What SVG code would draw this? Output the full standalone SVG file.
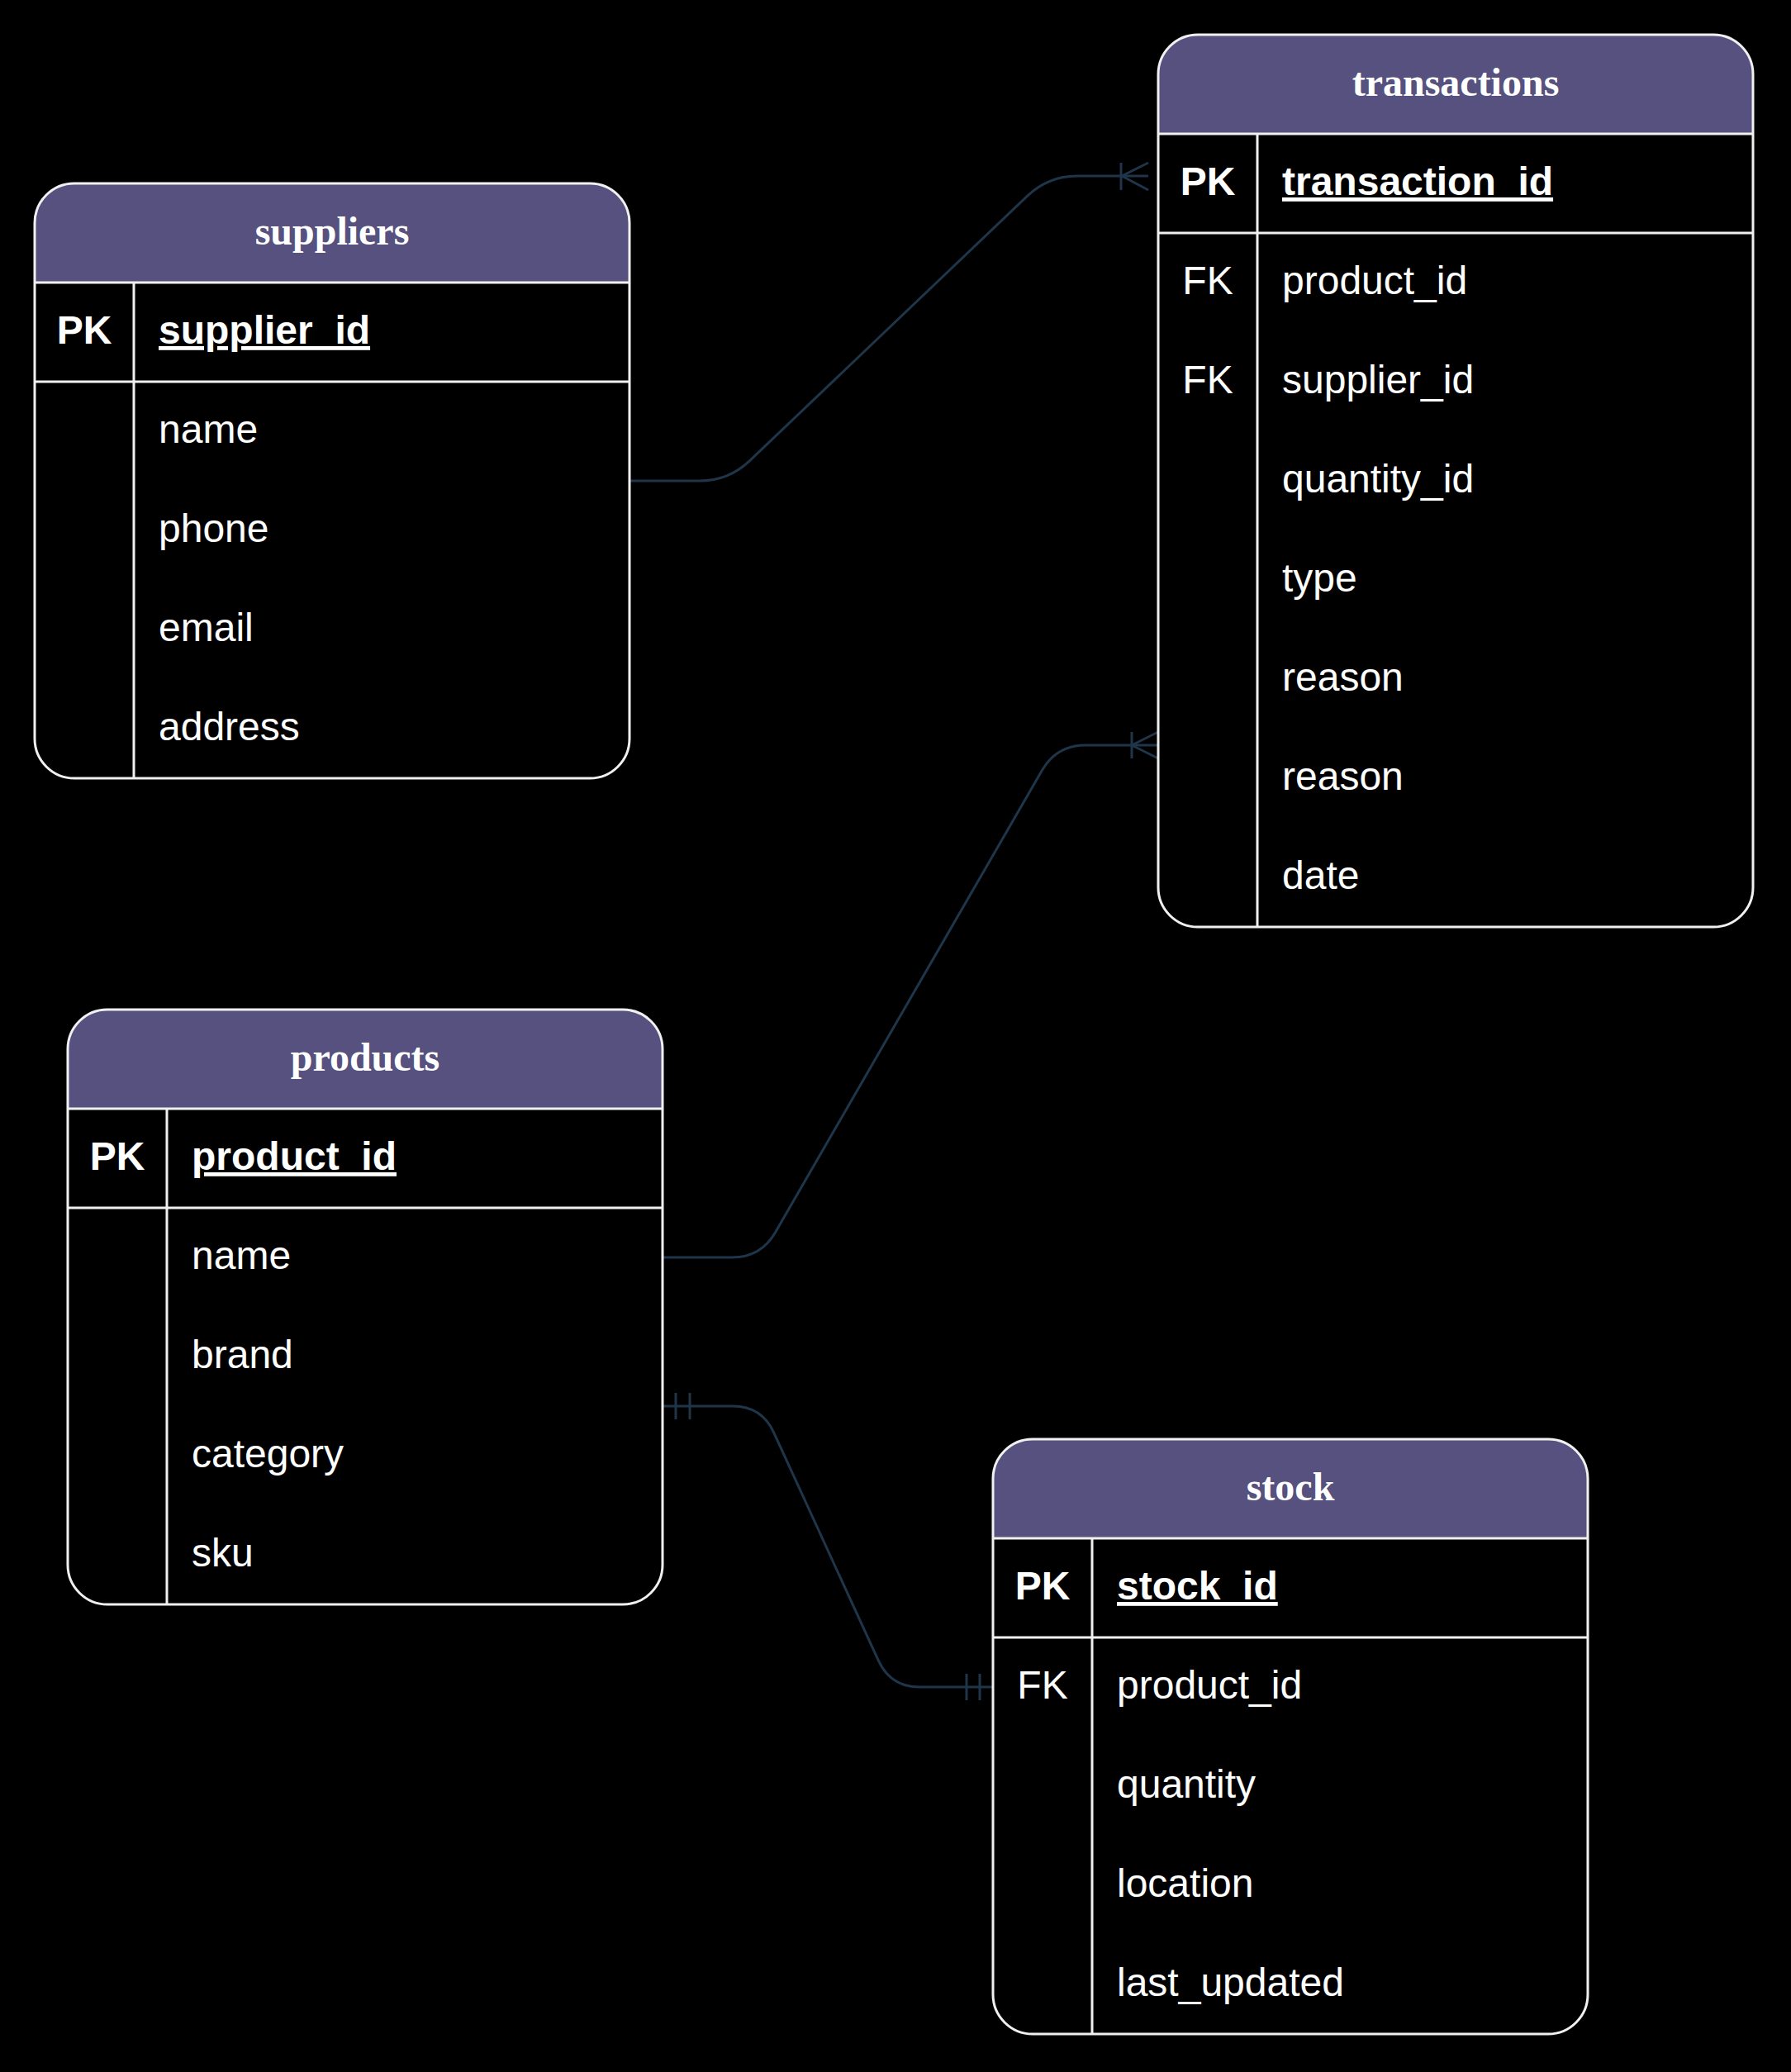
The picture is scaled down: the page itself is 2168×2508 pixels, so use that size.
<svg xmlns="http://www.w3.org/2000/svg" xmlns:xlink="http://www.w3.org/1999/xlink" width="2168" height="2508" viewBox="0 0 2168 2508">
  <style>
    .frame { fill: #000000; stroke: none; }
    .outline { fill: none; stroke: #f0f0f0; stroke-width: 3; }
    .hdr { fill: #56517e; }
    .sep { stroke: #f0f0f0; stroke-width: 3; fill: none; }
    .title { font-family: "Liberation Serif", "Times New Roman", serif; font-weight: bold; font-size: 48px; fill: #ffffff; text-anchor: middle; }
    .key { font-family: "Liberation Sans", Arial, sans-serif; font-size: 48px; fill: #ffffff; text-anchor: middle; }
    .pk { font-weight: bold; }
    .field { font-family: "Liberation Sans", Arial, sans-serif; font-size: 48px; fill: #ffffff; }
    .pkname { font-weight: bold; text-decoration: underline; }
    .rel { fill: none; stroke: #1f3549; stroke-width: 3; }
  </style>
  <defs>
    <!-- purple header band, rounded on top only -->
    <path id="hdr" d="M0 120V48A48 48 0 0 1 48 0H672A48 48 0 0 1 720 48V120Z"/>
  </defs>

  <rect width="2168" height="2508" fill="#000000"/>

  <!-- relationship connectors -->
  <g id="connectors">
    <!-- suppliers -> transactions (one to many) -->
    <path class="rel" d="M762 582H847Q882 582 907.3 557.9L1243.7 237.1Q1269 213 1304 213H1390"/>
    <path class="rel" d="M1357 197V230M1358 213L1390 197M1358 213L1390 230"/>
    <!-- products -> transactions (one to many) -->
    <path class="rel" d="M802 1522H886Q921 1522 938.5 1491.7L1261.5 932.3Q1279 902 1314 902H1402"/>
    <path class="rel" d="M1370 886V918M1370 902L1402 886M1370 902L1402 918"/>
    <!-- products -> stock (one to one) -->
    <path class="rel" d="M802 1702H887Q922 1702 936.6 1733.8L1063.4 2010.2Q1078 2042 1113 2042H1202"/>
    <path class="rel" d="M818 1686V1718M835 1686V1718M1170 2026V2058M1186 2026V2058"/>
  </g>

  <!-- suppliers -->
  <g id="suppliers" transform="translate(42 222)">
    <rect class="frame" width="720" height="720" rx="48"/>
    <use xlink:href="#hdr" class="hdr"/>
    <path class="sep" d="M0 120H720M0 240H720M120 120V720"/>
    <rect class="outline" width="720" height="720" rx="48"/>
    <text class="title" x="360" y="74">suppliers</text>
    <text class="key pk" x="60" y="194">PK</text>
    <text class="field pkname" x="150" y="194">supplier_id</text>
    <text class="field" x="150" y="314">name</text>
    <text class="field" x="150" y="434">phone</text>
    <text class="field" x="150" y="554">email</text>
    <text class="field" x="150" y="674">address</text>
  </g>

  <!-- transactions -->
  <g id="transactions" transform="translate(1402 42)">
    <rect class="frame" width="720" height="1080" rx="48"/>
    <use xlink:href="#hdr" class="hdr"/>
    <path class="sep" d="M0 120H720M0 240H720M120 120V1080"/>
    <rect class="outline" width="720" height="1080" rx="48"/>
    <text class="title" x="360" y="74">transactions</text>
    <text class="key pk" x="60" y="194">PK</text>
    <text class="field pkname" x="150" y="194">transaction_id</text>
    <text class="key" x="60" y="314">FK</text>
    <text class="field" x="150" y="314">product_id</text>
    <text class="key" x="60" y="434">FK</text>
    <text class="field" x="150" y="434">supplier_id</text>
    <text class="field" x="150" y="554">quantity_id</text>
    <text class="field" x="150" y="674">type</text>
    <text class="field" x="150" y="794">reason</text>
    <text class="field" x="150" y="914">reason</text>
    <text class="field" x="150" y="1034">date</text>
  </g>

  <!-- products -->
  <g id="products" transform="translate(82 1222)">
    <rect class="frame" width="720" height="720" rx="48"/>
    <use xlink:href="#hdr" class="hdr"/>
    <path class="sep" d="M0 120H720M0 240H720M120 120V720"/>
    <rect class="outline" width="720" height="720" rx="48"/>
    <text class="title" x="360" y="74">products</text>
    <text class="key pk" x="60" y="194">PK</text>
    <text class="field pkname" x="150" y="194">product_id</text>
    <text class="field" x="150" y="314">name</text>
    <text class="field" x="150" y="434">brand</text>
    <text class="field" x="150" y="554">category</text>
    <text class="field" x="150" y="674">sku</text>
  </g>

  <!-- stock -->
  <g id="stock" transform="translate(1202 1742)">
    <rect class="frame" width="720" height="720" rx="48"/>
    <use xlink:href="#hdr" class="hdr"/>
    <path class="sep" d="M0 120H720M0 240H720M120 120V720"/>
    <rect class="outline" width="720" height="720" rx="48"/>
    <text class="title" x="360" y="74">stock</text>
    <text class="key pk" x="60" y="194">PK</text>
    <text class="field pkname" x="150" y="194">stock_id</text>
    <text class="key" x="60" y="314">FK</text>
    <text class="field" x="150" y="314">product_id</text>
    <text class="field" x="150" y="434">quantity</text>
    <text class="field" x="150" y="554">location</text>
    <text class="field" x="150" y="674">last_updated</text>
  </g>
</svg>
